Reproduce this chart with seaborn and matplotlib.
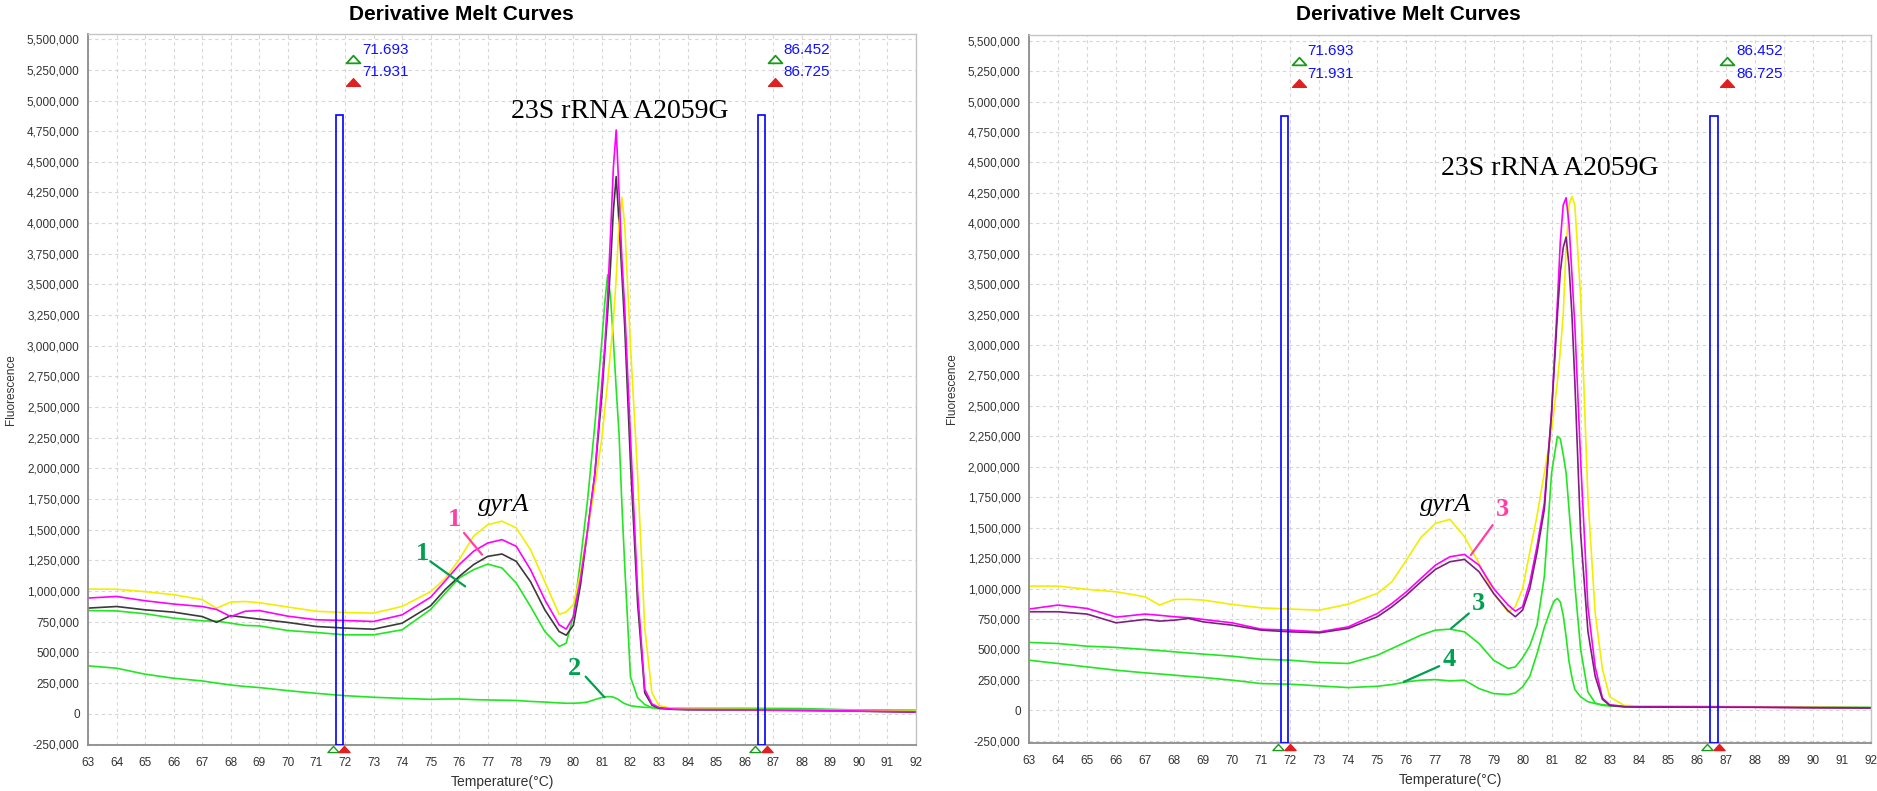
import numpy as np
import pandas as pd
import matplotlib
matplotlib.use("Agg")
import matplotlib.pyplot as plt
from matplotlib.patches import Rectangle
from matplotlib.path import Path
from matplotlib.ticker import FuncFormatter, MultipleLocator
import seaborn as sns

# temperature grid (deg C) shared by all curves
temps = [63, 64, 65, 66, 67, 67.5, 68, 68.5, 69, 70,
         71, 72, 73, 74, 75, 75.5, 76, 76.5, 77, 77.5,
         78, 78.5, 79, 79.5, 79.75, 80, 80.25, 80.5, 80.75, 81,
         81.1, 81.2, 81.3, 81.4, 81.5, 81.6, 81.7, 81.8, 82, 82.25,
         82.5, 82.75, 83, 83.5, 84, 86, 88, 90, 92]

# left panel, -dF/dT in thousands
left_yellow = [1016, 1015, 995, 970, 930, 860, 910, 915, 905, 870,
               835, 825, 820, 875, 995, 1100, 1256, 1446, 1541, 1570,
               1515, 1337, 1076, 810, 830, 890, 1150, 1500, 1850, 2250,
               2480, 2700, 2950, 3200, 3550, 4000, 4210, 3980, 3000, 1950,
               700, 170, 65, 42, 38, 35, 30, 25, 20]
left_magenta = [943, 956, 921, 894, 874, 850, 792, 835, 841, 795,
                766, 760, 752, 806, 950, 1080, 1215, 1324, 1392, 1419,
                1365, 1174, 929, 725, 690, 790, 1100, 1500, 1950, 2700,
                3000, 3400, 3900, 4450, 4760, 4250, 3700, 3300, 2250, 1000,
                200, 80, 50, 38, 35, 32, 28, 22, 15]
left_black = [861, 874, 847, 828, 792, 745, 800, 785, 771, 744,
              711, 698, 689, 738, 880, 1010, 1119, 1215, 1283, 1302,
              1242, 1076, 847, 670, 640, 720, 1050, 1500, 1950, 2600,
              2950, 3270, 3650, 4100, 4380, 4000, 3580, 3150, 2050, 900,
              170, 70, 45, 35, 32, 30, 26, 20, 12]
left_green1 = [841, 838, 815, 779, 757, 755, 738, 720, 716, 678,
               662, 643, 643, 684, 850, 980, 1106, 1174, 1220, 1188,
               1065, 874, 670, 548, 575, 800, 1250, 1750, 2350, 3050,
               3350, 3580, 3400, 3050, 2650, 2280, 1700, 1200, 300, 130,
               75, 50, 40, 38, 36, 35, 32, 28, 25]
left_green2 = [390, 371, 322, 289, 267, 250, 234, 222, 213, 188,
               166, 147, 134, 125, 117, 120, 120, 115, 112, 110,
               108, 100, 95, 88, 85, 85, 88, 95, 115, 132,
               137, 139, 139, 135, 125, 112, 95, 82, 65, 57,
               52, 50, 48, 45, 44, 44, 42, 30, 28]

# right panel
right_yellow = [1020, 1020, 993, 973, 932, 864, 910, 911, 905, 869,
                841, 831, 822, 872, 960, 1055, 1234, 1420, 1535, 1568,
                1425, 1206, 960, 808, 850, 1000, 1300, 1600, 1950, 2300,
                2500, 2700, 2950, 3250, 3800, 4150, 4220, 4150, 3400, 1750,
                800, 340, 110, 40, 35, 32, 28, 24, 20]
right_magenta = [831, 864, 836, 765, 790, 780, 768, 760, 746, 718,
                 666, 658, 644, 685, 795, 877, 973, 1083, 1192, 1261,
                 1280, 1192, 1001, 864, 814, 850, 1050, 1350, 1700, 2450,
                 2900, 3350, 3850, 4150, 4210, 3990, 3580, 3160, 2050, 850,
                 356, 100, 45, 30, 28, 27, 25, 22, 20]
right_purple = [809, 809, 790, 718, 746, 732, 740, 754, 726, 699,
                658, 644, 636, 672, 768, 850, 946, 1055, 1157, 1220,
                1239, 1138, 960, 817, 768, 822, 1000, 1300, 1650, 2450,
                2850, 3250, 3600, 3800, 3887, 3650, 3250, 2700, 1450, 650,
                280, 90, 40, 28, 26, 25, 24, 20, 18]
right_green3 = [557, 548, 526, 516, 499, 490, 480, 470, 461, 444,
                419, 411, 392, 384, 452, 507, 562, 617, 658, 666,
                644, 548, 411, 343, 356, 430, 530, 700, 1100, 1950,
                2100, 2250, 2230, 2100, 1950, 1650, 1350, 1030, 500, 150,
                60, 40, 35, 30, 28, 27, 26, 24, 22]
right_green4 = [411, 384, 356, 329, 307, 298, 288, 278, 269, 247,
                219, 214, 200, 186, 197, 211, 233, 247, 252, 241,
                247, 178, 137, 129, 142, 192, 280, 466, 680, 850,
                900, 918, 890, 780, 603, 400, 270, 170, 110, 70,
                55, 45, 40, 35, 32, 30, 28, 25, 22]

# melt region cursors (start, end)
cursors = [(71.693, 71.931), (86.452, 86.725)]

sns.set_theme(style="whitegrid")
plt.rcParams['font.family'] = ['Liberation Sans', 'DejaVu Sans']

YELLOW = '#f2ee00'
MAGENTA = '#ff00ff'
GREEN = '#22e622'
PINK_LBL = '#ff3fa4'
GREEN_LBL = '#00a050'


def long_form(curves):
    frames = []
    for name, vals in curves.items():
        frames.append(pd.DataFrame({'temp': temps,
                                    'fluor': np.array(vals) * 1000,
                                    'curve': name}))
    return pd.concat(frames, ignore_index=True)


# flat cursor triangle, closed path
flat_tri = Path([(-1, -0.55), (1, -0.55), (0, 0.55), (-1, -0.55)],
                [Path.MOVETO, Path.LINETO, Path.LINETO, Path.CLOSEPOLY])


def style_panel(ax, ylim):
    ax.set_xlim(63, 92)
    ax.set_ylim(*ylim)
    ax.xaxis.set_major_locator(MultipleLocator(1))
    ax.yaxis.set_major_locator(MultipleLocator(250000))
    ax.yaxis.set_major_formatter(FuncFormatter(lambda v, p: f'{v:,.0f}'))
    ax.grid(True, color='#d6d6d6', linestyle=(0, (3, 3)), linewidth=0.8)
    ax.set_facecolor('white')
    for s in ['left', 'bottom']:
        ax.spines[s].set_color('#8c8c8c')
        ax.spines[s].set_linewidth(1.3)
    for s in ['top', 'right']:
        ax.spines[s].set_color('#c4c4c4')
        ax.spines[s].set_linewidth(1.0)
    ax.tick_params(axis='both', direction='out', length=4, width=0.9,
                   color='#8c8c8c', labelsize=8.5, labelcolor='#333333', pad=2)
    ax.tick_params(axis='x', pad=5)
    ax.set_xlabel('Temperature(°C)', fontsize=10, color='#333333', labelpad=4)
    ax.set_ylabel('Fluorescence', fontsize=8.5, color='#333333', labelpad=7)

    ybot = ylim[0]
    for x0, x1 in cursors:
        ax.add_patch(Rectangle((x0, ybot), x1 - x0, 4885000 - ybot, fill=False,
                               edgecolor='#0000ff', linewidth=1.2, zorder=5))
        ax.plot([x0 + 0.6], [5336000], marker=flat_tri, markersize=10, linestyle='none',
                markerfacecolor='white', markeredgecolor='#1a9a1a', mew=1.3, zorder=6)
        ax.plot([x0 + 0.6], [5152000], marker=flat_tri, markersize=10, linestyle='none',
                markerfacecolor='#e02020', markeredgecolor='#e02020', mew=1.0, zorder=6)
        ax.text(x0 + 0.9, 5414000, f'{x0:.3f}', color='#1010ff', fontsize=11,
                ha='left', va='center')
        ax.text(x0 + 0.9, 5229000, f'{x1:.3f}', color='#1010ff', fontsize=11,
                ha='left', va='center')
        trans = ax.get_xaxis_transform()
        ax.plot([x0 - 0.1], [-0.0055], marker=flat_tri, markersize=8, transform=trans,
                linestyle='none', markerfacecolor='white', markeredgecolor='#1a9a1a',
                mew=1.0, clip_on=False, zorder=7)
        ax.plot([x1 + 0.05], [-0.0055], marker=flat_tri, markersize=8, transform=trans,
                linestyle='none', markerfacecolor='#e02020', markeredgecolor='#e02020',
                mew=1.0, clip_on=False, zorder=7)


def label(ax, text, color, xy_text, line_from, line_to):
    ax.text(xy_text[0], xy_text[1], text, color=color, fontsize=19,
            fontweight='bold', family='Liberation Serif', ha='center', va='center')
    ax.plot([line_from[0], line_to[0]], [line_from[1], line_to[1]],
            color=color, linewidth=1.6, zorder=6)


fig = plt.figure(figsize=(18.77, 7.91), dpi=100)
fig.patch.set_facecolor('white')

ax1 = fig.add_axes([0.0469, 0.0582, 0.4411, 0.8989])
ax2 = fig.add_axes([0.5482, 0.0607, 0.4486, 0.8951])

left_curves = {'green2': left_green2, 'green1': left_green1, 'black': left_black,
               'yellow': left_yellow, 'magenta': left_magenta}
left_pal = {'green2': GREEN, 'green1': GREEN, 'black': '#3a3a3a',
            'yellow': YELLOW, 'magenta': MAGENTA}
sns.lineplot(data=long_form(left_curves), x='temp', y='fluor', hue='curve',
             hue_order=list(left_curves), palette=left_pal, linewidth=1.2,
             legend=False, ax=ax1)

right_curves = {'green4': right_green4, 'green3': right_green3, 'yellow': right_yellow,
                'magenta': right_magenta, 'purple': right_purple}
right_pal = {'green4': GREEN, 'green3': GREEN, 'yellow': YELLOW,
             'magenta': MAGENTA, 'purple': '#7f1f7f'}
sns.lineplot(data=long_form(right_curves), x='temp', y='fluor', hue='curve',
             hue_order=list(right_curves), palette=right_pal, linewidth=1.2,
             legend=False, ax=ax2)

style_panel(ax1, (-255000, 5543000))
style_panel(ax2, (-269000, 5547000))

# left annotations
ax1.text(81.62, 4908000, '23S rRNA A2059G', fontsize=20, family='Liberation Serif',
         ha='center', va='center', color='black')
ax1.text(77.57, 1705000, 'gyrA', fontsize=19, family='Liberation Serif',
         style='italic', ha='center', va='center', color='black')
label(ax1, '1', PINK_LBL, (75.83, 1583000), (76.17, 1474000), (76.80, 1297000))
label(ax1, '1', GREEN_LBL, (74.72, 1310000), (74.99, 1242000), (76.21, 1038000))
label(ax1, '2', GREEN_LBL, (80.05, 371000), (80.43, 302000), (81.09, 134000))

# right annotations
ax2.text(80.95, 4446000, '23S rRNA A2059G', fontsize=20, family='Liberation Serif',
         ha='center', va='center', color='black')
ax2.text(77.36, 1686000, 'gyrA', fontsize=19, family='Liberation Serif',
         style='italic', ha='center', va='center', color='black')
label(ax2, '3', PINK_LBL, (79.31, 1645000), (78.97, 1521000), (78.22, 1275000))
label(ax2, '3', GREEN_LBL, (78.49, 877000), (78.15, 795000), (77.54, 672000))
label(ax2, '4', GREEN_LBL, (77.47, 417000), (77.13, 362000), (75.91, 233000))

fig.text(461 / 1877, 1 - 14 / 791, 'Derivative Melt Curves', fontsize=15,
         fontweight='bold', ha='center', va='center', color='black')
fig.text(1408 / 1877, 1 - 14 / 791, 'Derivative Melt Curves', fontsize=15,
         fontweight='bold', ha='center', va='center', color='black')

fig.savefig('out.png', dpi=100, facecolor='white')
